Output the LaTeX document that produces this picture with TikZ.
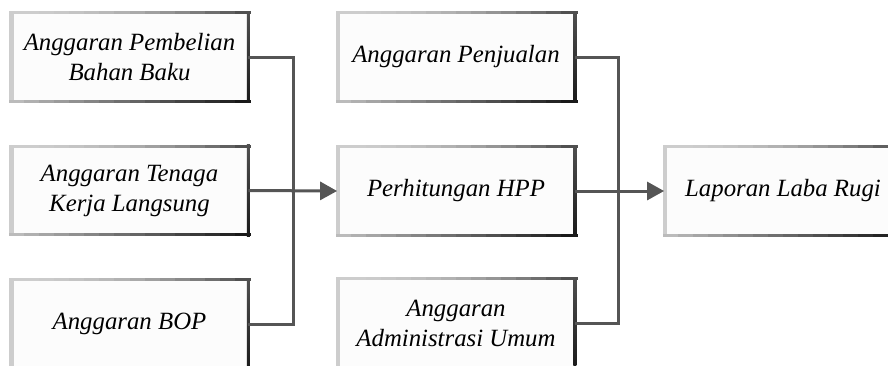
\documentclass[tikz,border=0pt]{standalone}
\usepackage{fontspec}
\setmainfont{Liberation Serif}
\usetikzlibrary{arrows.meta,calc}
\definecolor{edgeA}{RGB}{205,205,205}
\definecolor{edgeC}{RGB}{80,80,80}
\definecolor{edgeD}{RGB}{187,187,187}
\definecolor{edgeE}{RGB}{25,25,25}
\definecolor{linkgray}{RGB}{85,85,85}
\begin{document}
\begin{tikzpicture}[x=0.5pt,y=-0.5pt,
    box/.style={fill=black!1,minimum width=118.5pt,minimum height=44pt,
        align=center,inner sep=0pt,font=\fontsize{12.4}{15}\selectfont\itshape},
    leftedge/.style={fill=edgeA},
    rightedge/.style={top color=edgeC,bottom color=edgeE},
    link/.style={draw=linkgray,line width=1.5pt},
    arrow/.style={link,-{Triangle[length=8.5pt,width=9pt]}}]
    \useasboundingbox (0,0) rectangle (888,365);
        \node (pbb) [box] at (129.5,57) {Anggaran Pembelian\\Bahan Baku};
        \node (tkl) [box] at (129.5,190.5) {Anggaran Tenaga\\Kerja Langsung};
        \node (bop) [box] at (129.5,324) {Anggaran BOP};
        \node (pen) [box] at (456,57) {Anggaran Penjualan};
        \node (hpp) [box] at (456,191) {Perhitungan HPP};
        \node (adm) [box] at (456,323) {Anggaran\\Administrasi Umum};
        \node (lr) [box] at (783,191) {Laporan Laba Rugi};
    \foreach \n in {pbb,tkl,bop,pen,hpp,adm,lr} {
        \coordinate (\n-a) at ([shift={(-0.75pt,0.75pt)}]\n.north west);
        \coordinate (\n-b) at ([shift={(0.75pt,0.75pt)}]\n.north east);
        \coordinate (\n-c) at ([shift={(-0.75pt,0.75pt)}]\n.south west);
        \coordinate (\n-d) at ([shift={(0.75pt,0.75pt)}]\n.south east);
        \foreach \i [evaluate=\i as \j using \i+1.1,
                     evaluate=\i as \c using 100*(\i/15)^2,
                     evaluate=\i as \d using 100*\i/15] in {0,...,15} {
            \fill[edgeC!\c!edgeA] ($(\n-a)!\i/16!(\n-b)$) rectangle ([yshift=-1.5pt]$(\n-a)!\j/16!(\n-b)$);
            \fill[edgeE!\d!edgeD] ($(\n-c)!\i/16!(\n-d)$) rectangle ([yshift=-1.5pt]$(\n-c)!\j/16!(\n-d)$);
        }
        \fill[leftedge] (\n-a) rectangle ([shift={(1.5pt,0.75pt)}]\n.south west);
        \shade[rightedge] ([xshift=-1.5pt]\n-b) rectangle ([shift={(0.75pt,-0.75pt)}]\n.south east);
    }
    \coordinate (jl) at (293,191);
    \coordinate (jr) at (618,191);
    \draw[link] (pbb.east) -| (jl) |- (bop.east);
    \draw[arrow] (tkl.east) -- (hpp.west);
    \draw[link] (pen.east) -| (jr) |- (adm.east);
    \draw[arrow] (hpp.east) -- (lr.west);
\end{tikzpicture}
\end{document}
